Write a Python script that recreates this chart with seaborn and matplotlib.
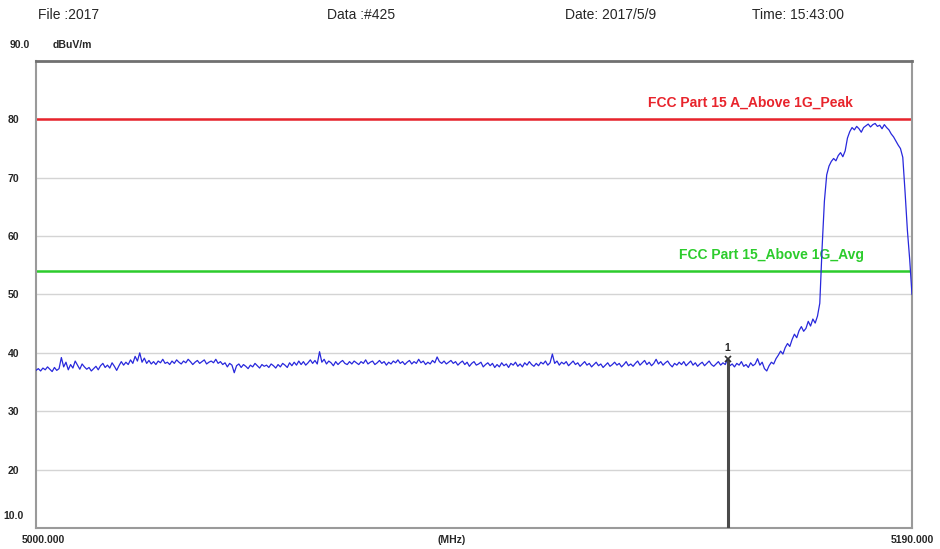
import numpy as np
import pandas as pd
import matplotlib
matplotlib.use('Agg')
import matplotlib.pyplot as plt
import seaborn as sns

# header info
header = ['File :2017', 'Data :#425', 'Date: 2017/5/9', 'Time: 15:43:00']

# limit lines
limit_names = ['FCC Part 15 A_Above 1G_Peak', 'FCC Part 15_Above 1G_Avg']
limit_values = [80.0, 54.0]
limit_colors = ['#e8242c', '#2ccc2c']
limit_label_x = [5155.0, 5159.5]

y_ticks = [20, 30, 40, 50, 60, 70, 80]
marker_freq = 5150.0

# measured trace, 0.5 MHz steps from 5000 to 5190 MHz (dBuV/m)
level = [
    37.0, 37.3, 36.9, 37.4, 37.1, 37.6, 37.2, 36.8, 37.5, 37.0, 37.3, 39.2, 37.6, 38.4, 37.1, 38.0, 37.4, 38.6, 37.9, 37.2,
    38.1, 37.6, 37.2, 37.5, 36.9, 37.3, 37.7, 37.1, 37.8, 38.2, 37.5, 37.9, 37.4, 38.3, 37.7, 37.0, 37.8, 38.5, 37.9, 38.4,
    38.0, 38.8, 38.2, 39.4, 38.6, 40.0, 38.4, 39.1, 38.2, 38.7, 38.1, 38.5, 38.0, 38.6, 38.3, 38.9, 38.2, 38.4, 38.0, 38.6,
    38.2, 38.8, 38.4, 38.1, 38.6, 38.3, 38.9, 38.5, 38.0, 38.4, 38.7, 38.2, 38.5, 38.8, 38.1, 38.4, 38.6, 38.3, 38.9, 38.2,
    38.5, 38.0, 38.3, 37.6, 38.2, 37.9, 36.6, 37.8, 38.1, 37.5, 38.0, 37.7, 37.3, 37.9, 37.6, 38.2, 37.8, 37.4, 38.0, 37.7,
    37.9, 37.5, 38.1, 37.8, 37.4, 38.0, 37.6, 38.2, 37.9, 37.5, 38.3, 37.8, 38.4, 37.9, 38.6, 38.0, 38.5, 37.9, 38.3, 38.8,
    38.2, 38.7, 38.1, 40.2, 38.4, 38.9, 38.1, 38.6, 38.3, 37.8, 38.5, 38.0, 38.4, 38.7, 38.2, 38.0, 38.5, 38.1, 38.6, 38.3,
    38.0, 38.5, 38.2, 38.8, 38.1, 38.4, 38.6, 38.0, 38.3, 38.7, 38.2, 38.5, 37.9, 38.4, 38.1, 38.6, 38.3, 38.8, 38.2, 38.5,
    38.0, 38.4, 38.7, 38.1, 38.5, 38.2, 38.9, 38.3, 38.6, 38.0, 38.4, 38.1, 38.7, 38.3, 39.3, 38.5, 38.2, 38.6, 38.1, 38.4,
    38.7, 38.2, 38.5, 37.9, 38.3, 38.6, 38.0, 38.4, 37.7, 38.2, 38.5, 37.9, 38.1, 38.4, 37.6, 38.0, 38.3, 37.8, 38.2, 37.5,
    38.0, 37.6, 38.3, 37.8, 38.1, 37.5, 38.2, 37.9, 38.4, 37.7, 38.1, 37.6, 38.3, 37.9, 38.5, 38.0, 37.7, 38.2, 37.8, 38.4,
    38.1, 38.6, 37.9, 38.3, 39.8, 38.2, 38.6, 37.9, 38.4, 38.1, 38.5, 37.8, 38.2, 38.6, 38.0, 38.3, 37.7, 38.1, 38.5, 37.9,
    38.2, 37.6, 38.0, 38.4, 37.8, 38.1, 37.5, 37.9, 38.3, 37.7, 38.0, 38.4, 37.9, 38.2, 37.6, 38.0, 38.5, 37.8, 38.1, 37.7,
    38.2, 38.6, 37.9, 38.3, 38.7, 38.0, 38.4, 37.8, 38.2, 38.9, 38.1, 38.5, 37.9, 38.3, 38.6, 38.0, 37.6, 38.2, 37.9, 38.4,
    38.0, 38.5, 37.8, 38.2, 38.6, 37.9, 38.3, 37.7, 38.1, 38.4, 37.8, 38.2, 38.6, 38.0, 37.7, 38.1, 38.5, 37.9, 38.3, 38.0,
    39.0, 37.8, 38.1, 37.6, 38.2, 37.9, 38.5, 37.7, 38.0, 37.5, 38.3, 37.8, 38.1, 39.0, 37.9, 38.4, 37.3, 36.9, 37.8, 38.4,
    38.1, 39.0, 39.6, 40.3, 39.8, 40.9, 41.6, 41.1, 42.3, 43.2, 42.6, 43.8, 44.5, 43.7, 44.2, 45.4, 44.6, 45.8, 45.1, 46.3,
    48.5, 58.0, 66.0, 70.5, 72.0, 72.8, 73.3, 72.9, 73.8, 74.3, 73.6, 74.6, 76.8, 77.9, 78.6, 78.2, 78.8, 78.4, 77.8, 78.6,
    78.9, 79.2, 78.7, 79.1, 79.3, 78.8, 79.0, 78.4, 79.1, 78.6, 78.2, 77.5, 77.0, 76.3, 75.6, 75.0, 73.5, 67.5, 61.0, 56.0,
    50.0,
]
freq = [5000.0 + 0.5 * i for i in range(len(level))]

df = pd.DataFrame({'Frequency': freq, 'Level': level})

sns.set_style('white')
plt.rcParams['font.family'] = ['Liberation Sans', 'DejaVu Sans']

fig = plt.figure(figsize=(9.4, 5.49), dpi=100)
ax = fig.add_axes([36 / 940, 1 - 528 / 549, 876 / 940, 467 / 549])

for yv in y_ticks:
    ax.axhline(yv, color='#d4d4d4', lw=1, zorder=0)

for name, val, col, lx in zip(limit_names, limit_values, limit_colors, limit_label_x):
    ax.axhline(val, color=col, lw=1.8, zorder=2)
    ax.text(lx, val + 1.6, name, color=col, fontsize=10, fontweight='bold',
            ha='center', va='bottom')

sns.lineplot(data=df, x='Frequency', y='Level', ax=ax, color='#2828dc', lw=0.9, zorder=3)

# marker 1
m_level = df.loc[df['Frequency'] == marker_freq, 'Level'].values[0]
ax.vlines(marker_freq, 10, m_level, color='#4a4a4a', lw=2.2, zorder=4)
ax.plot([marker_freq], [m_level], marker='x', color='#333333', ms=5, mew=1.2, zorder=5)
ax.text(marker_freq, m_level + 0.9, '1', fontsize=7.5, fontweight='bold', ha='center', va='bottom')

ax.set_xlim(5000, 5190)
ax.set_ylim(10, 90)
ax.set_yticks(y_ticks)
ax.set_yticklabels([str(v) for v in y_ticks], fontsize=7.5, fontweight='bold')
ax.set_xticks([])
ax.tick_params(axis='y', length=0, pad=12)
ax.set_xlabel('')
ax.set_ylabel('')

for side in ['left', 'right', 'bottom']:
    ax.spines[side].set_color('#9a9a9a')
    ax.spines[side].set_linewidth(1.5)
ax.spines['top'].set_color('#707070')
ax.spines['top'].set_linewidth(2)

# extra axis annotations
fig.text(10 / 940, 1 - 45 / 549, '90.0', fontsize=7.5, fontweight='bold', va='center')
fig.text(53 / 940, 1 - 45 / 549, 'dBuV/m', fontsize=7.5, fontweight='bold', va='center')
fig.text(3 / 940, 1 - 516 / 549, '10.0', fontsize=7.5, fontweight='bold', va='center')
fig.text(22 / 940, 1 - 540 / 549, '5000.000', fontsize=7.5, fontweight='bold', va='center')
fig.text(452 / 940, 1 - 540 / 549, '(MHz)', fontsize=7.5, fontweight='bold', va='center', ha='center')
fig.text(934 / 940, 1 - 540 / 549, '5190.000', fontsize=7.5, fontweight='bold', va='center', ha='right')

for xpos, txt in zip([38, 327, 565, 752], header):
    fig.text(xpos / 940, 1 - 15 / 549, txt, fontsize=10, va='center')

plt.savefig('out.png', dpi=100)
